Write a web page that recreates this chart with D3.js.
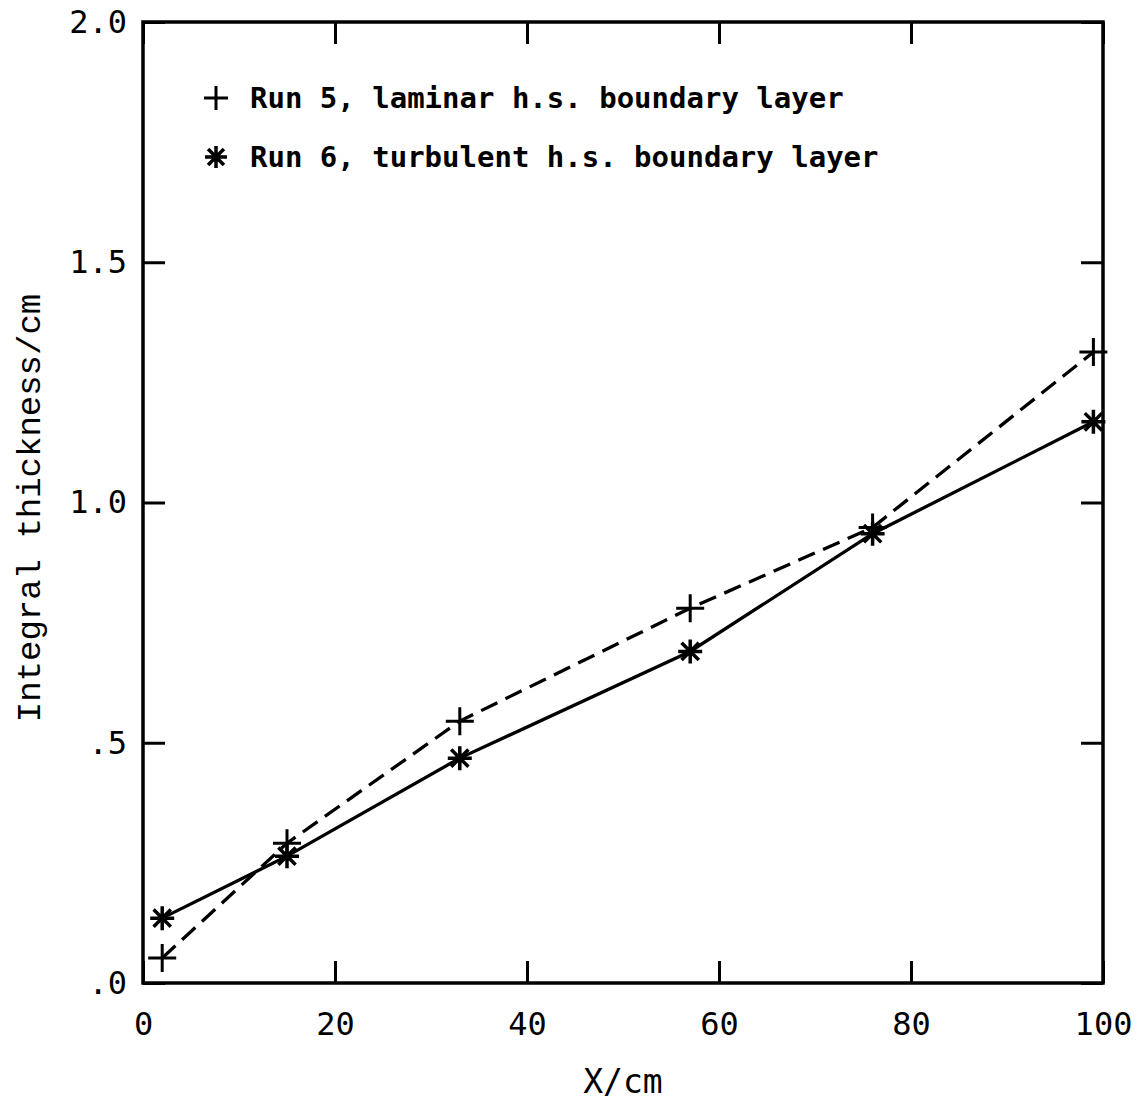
<!DOCTYPE html>
<html><head><meta charset="utf-8">
<script src="https://cdn.jsdelivr.net/npm/d3@7"></script>
<style>body{margin:0;background:#fff}svg{display:block}</style>
</head><body>
<script>
const xRun = [2, 15, 33, 57, 76, 99];
const run5 = [0.052, 0.291, 0.545, 0.780, 0.948, 1.313];
const run6 = [0.135, 0.264, 0.468, 0.690, 0.935, 1.168];
const xTicks = [0, 20, 40, 60, 80, 100];
const yTicks = [0, 0.5, 1.0, 1.5, 2.0];
const yTickLabels = [".0", ".5", "1.0", "1.5", "2.0"];
const legendLabels = ["Run 5, laminar h.s. boundary layer", "Run 6, turbulent h.s. boundary layer"];

const W = 1148, H = 1103;
const m = {left:143, right:1103, top:22, bottom:983};
const svg = d3.select("body").append("svg").attr("width", W).attr("height", H);
const x = d3.scaleLinear().domain([0,100]).range([m.left, m.right]);
const y = d3.scaleLinear().domain([0,2]).range([m.bottom, m.top]);
const font = "'DejaVu Sans Mono', monospace";
const tickLen = 22;

// frame
svg.append("rect").attr("x", m.left).attr("y", m.top)
  .attr("width", m.right-m.left).attr("height", m.bottom-m.top)
  .attr("fill","none").attr("stroke","#000").attr("stroke-width",3.5);

// axes with inward ticks
const axB = d3.axisBottom(x).tickValues(xTicks).tickSize(-tickLen).tickPadding(29).tickFormat(d3.format("d"));
const axT = d3.axisTop(x).tickValues(xTicks).tickSize(-tickLen).tickFormat("");
const axL = d3.axisLeft(y).tickValues(yTicks).tickSize(-tickLen).tickPadding(16).tickFormat((d,i)=>yTickLabels[i]);
const axR = d3.axisRight(y).tickValues(yTicks).tickSize(-tickLen).tickFormat("");
function style(g){
  g.select(".domain").remove();
  g.selectAll(".tick line").attr("stroke","#000").attr("stroke-width",3);
  g.selectAll(".tick text").attr("font-family",font).attr("font-size",32).attr("fill","#000");
}
svg.append("g").attr("transform",`translate(0,${m.bottom})`).call(axB).call(style);
svg.append("g").attr("transform",`translate(0,${m.top})`).call(axT).call(style);
svg.append("g").attr("transform",`translate(${m.left},0)`).call(axL).call(style);
svg.append("g").attr("transform",`translate(${m.right},0)`).call(axR).call(style);

// axis labels
svg.append("text").attr("x", 623).attr("y", 1093).attr("text-anchor","middle")
  .attr("font-family",font).attr("font-size",33).text("X/cm");
svg.append("text").attr("transform","translate(40,508) rotate(-90)").attr("text-anchor","middle")
  .attr("font-family","'Liberation Mono', 'Courier New', monospace").attr("font-size",34).text("Integral thickness/cm");

// lines
const line = d3.line().x(d=>x(d[0])).y(d=>y(d[1]));
const d5 = xRun.map((v,i)=>[v, run5[i]]);
const d6 = xRun.map((v,i)=>[v, run6[i]]);
svg.append("path").attr("d", line(d5)).attr("fill","none").attr("stroke","#000")
  .attr("stroke-width",3.3).attr("stroke-dasharray","18,9");
svg.append("path").attr("d", line(d6)).attr("fill","none").attr("stroke","#000").attr("stroke-width",3.3);

function plus(g, cx, cy, r){
  g.append("path").attr("d",`M${cx-r},${cy}H${cx+r}M${cx},${cy-r}V${cy+r}`)
    .attr("stroke","#000").attr("stroke-width",3).attr("fill","none");
}
function star(g, cx, cy, r){
  const d = r*0.72;
  g.append("path").attr("d",`M${cx-r},${cy}H${cx+r}M${cx},${cy-r}V${cy+r}M${cx-d},${cy-d}L${cx+d},${cy+d}M${cx-d},${cy+d}L${cx+d},${cy-d}`)
    .attr("stroke","#000").attr("stroke-width",3.5).attr("fill","none");
}
const mk = svg.append("g");
d5.forEach(d=>plus(mk, x(d[0]), y(d[1]), 14));
d6.forEach(d=>star(mk, x(d[0]), y(d[1]), 12));

// legend
plus(svg, 216, 98, 12);
star(svg, 216, 157, 11);
legendLabels.forEach((t,i)=>{
  svg.append("text").attr("x",250).attr("y",108+i*59)
    .attr("font-family",font).attr("font-size",29).attr("font-weight","bold").text(t);
});
</script>
</body></html>
